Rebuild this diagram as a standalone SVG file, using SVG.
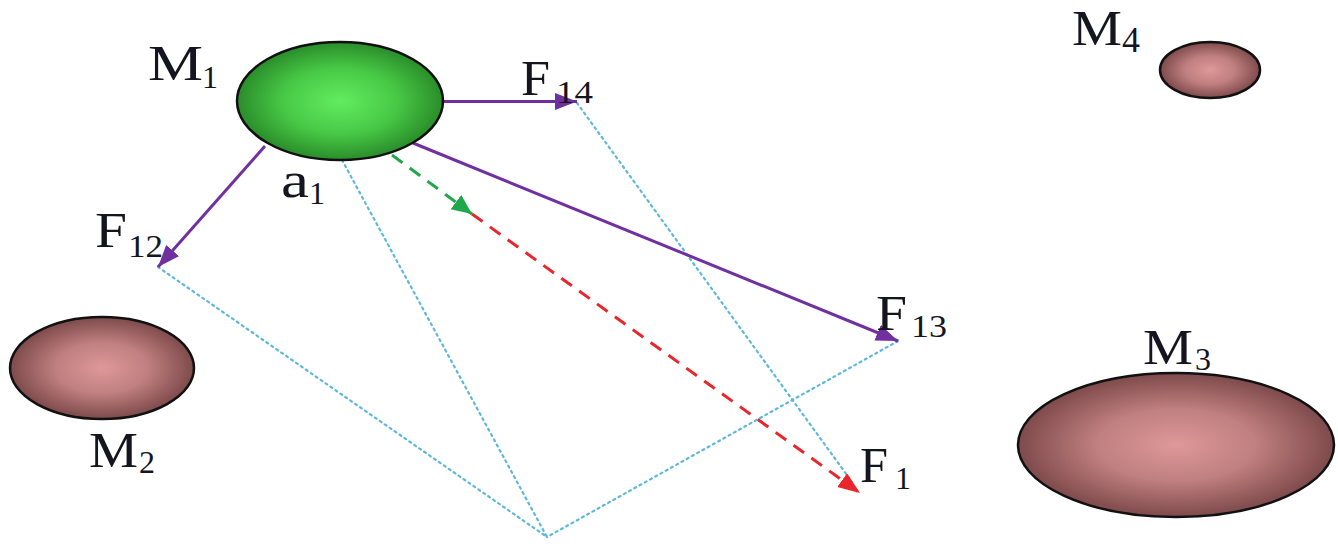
<svg xmlns="http://www.w3.org/2000/svg" width="1338" height="546" viewBox="0 0 1338 546">
<style>
.lbl{font-family:"Liberation Serif","Times New Roman",serif;fill:#15151f;}
.big{font-size:50px;}
.sub{font-size:32px;}
.force{stroke:#7030a0;stroke-width:3;fill:none;}
.dot{stroke:#5db8dc;stroke-width:2.2;fill:none;stroke-dasharray:2 4;stroke-linecap:round;}
.body{stroke:#111;stroke-width:2.5;}
</style>
<defs>
<radialGradient id="gGreen" cx="50%" cy="50%" r="50%">
<stop offset="0" stop-color="#62ec60"/>
<stop offset="0.55" stop-color="#48c946"/>
<stop offset="1" stop-color="#2a8d2a"/>
</radialGradient>
<radialGradient id="gPink" cx="50%" cy="50%" r="50%">
<stop offset="0" stop-color="#de9898"/>
<stop offset="0.5" stop-color="#c07f80"/>
<stop offset="1" stop-color="#7e4a4b"/>
</radialGradient>
<marker id="aPurple" markerUnits="userSpaceOnUse" markerWidth="24" markerHeight="18" refX="22" refY="8.5" orient="auto"><path d="M0,0 L22,8.5 L0,17 z" fill="#7030a0"/></marker>
<marker id="aGreen" markerUnits="userSpaceOnUse" markerWidth="22" markerHeight="20" refX="20" refY="9" orient="auto"><path d="M0,0 L20,9 L0,18 z" fill="#1fa84a"/></marker>
<marker id="aRed" markerUnits="userSpaceOnUse" markerWidth="24" markerHeight="18" refX="22" refY="8.5" orient="auto"><path d="M0,0 L22,8.5 L0,17 z" fill="#e8262b"/></marker>
</defs>
<rect width="1338" height="546" fill="#ffffff"/>
<g id="connectors">
<line class="dot" x1="158" y1="267" x2="547" y2="537"/>
<line class="dot" x1="342" y1="160" x2="547" y2="537"/>
<line class="dot" x1="898" y1="341" x2="547" y2="537"/>
<line class="dot" x1="577" y1="103" x2="852" y2="482"/>
<line class="force" x1="443" y1="101.5" x2="577" y2="101.5" marker-end="url(#aPurple)"/>
<line class="force" x1="265" y1="146" x2="158" y2="267" marker-end="url(#aPurple)"/>
<line class="force" x1="413" y1="143" x2="898" y2="341" marker-end="url(#aPurple)"/>
<line x1="472" y1="214" x2="860" y2="493" stroke="#e8262b" stroke-width="3" stroke-dasharray="13 9" marker-end="url(#aRed)"/>
<line x1="392" y1="155" x2="472" y2="214" stroke="#1fa84a" stroke-width="3" stroke-dasharray="13 9" marker-end="url(#aGreen)"/>
</g>
<g id="M1">
<ellipse class="body" cx="340" cy="101" rx="103" ry="59" fill="url(#gGreen)"/>
<text class="lbl big" x="148" y="80" textLength="55" lengthAdjust="spacingAndGlyphs">M</text>
<text class="lbl sub" x="202" y="88">1</text>
</g>
<g id="a1">
<text class="lbl big" x="281" y="197" textLength="28" lengthAdjust="spacingAndGlyphs">a</text>
<text class="lbl sub" x="309" y="204">1</text>
</g>
<g id="M2">
<ellipse class="body" cx="102" cy="368" rx="92" ry="51" fill="url(#gPink)"/>
<text class="lbl big" x="89" y="467" textLength="49" lengthAdjust="spacingAndGlyphs">M</text>
<text class="lbl sub" x="139" y="473">2</text>
</g>
<g id="M3">
<ellipse class="body" cx="1176" cy="445" rx="158" ry="72" fill="url(#gPink)"/>
<text class="lbl big" x="1143" y="364" textLength="50" lengthAdjust="spacingAndGlyphs">M</text>
<text class="lbl sub" x="1195" y="370">3</text>
</g>
<g id="M4">
<ellipse class="body" cx="1210" cy="70" rx="50" ry="28" fill="url(#gPink)"/>
<text class="lbl big" x="1072" y="45" textLength="50" lengthAdjust="spacingAndGlyphs">M</text>
<text class="lbl" x="1122" y="52" font-size="36">4</text>
</g>
<g id="F14">
<text class="lbl big" x="521" y="95" textLength="29" lengthAdjust="spacingAndGlyphs">F</text>
<text class="lbl sub" x="556" y="103" textLength="37" lengthAdjust="spacingAndGlyphs">14</text>
</g>
<g id="F12">
<text class="lbl big" x="95" y="247" textLength="32" lengthAdjust="spacingAndGlyphs">F</text>
<text class="lbl sub" x="128" y="257" textLength="35" lengthAdjust="spacingAndGlyphs">12</text>
</g>
<g id="F13">
<text class="lbl big" x="876" y="330" textLength="31" lengthAdjust="spacingAndGlyphs">F</text>
<text class="lbl sub" x="911" y="337" textLength="36" lengthAdjust="spacingAndGlyphs">13</text>
</g>
<g id="F1">
<text class="lbl big" x="860" y="482" textLength="28" lengthAdjust="spacingAndGlyphs">F</text>
<text class="lbl sub" x="895" y="489">1</text>
</g>
</svg>
